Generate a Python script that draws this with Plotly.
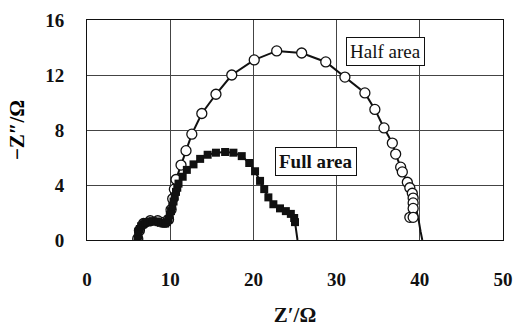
import plotly.graph_objects as go

# Half area (open circles)
half_x = [6.1, 6.3, 6.8, 7.6, 8.5, 9.3, 9.8, 10.1, 10.3, 10.5, 10.7, 11.3, 11.9, 12.6, 13.8, 15.5, 17.4, 20.1,
          22.8, 25.8, 28.7, 31.0, 33.4, 34.6, 35.7, 36.7, 37.1, 37.7, 37.9, 38.5, 38.8, 39.1, 39.2, 39.2, 39.2, 38.8, 39.2]
half_y = [0.1, 0.7, 1.2, 1.4, 1.4, 1.3, 1.5, 2.2, 3.0, 3.7, 4.4, 5.45, 6.5, 7.7, 9.2, 10.6, 12.0, 13.1,
          13.75, 13.6, 12.95, 11.85, 10.7, 9.5, 8.15, 7.05, 6.25, 5.3, 4.95, 4.2, 3.8, 3.4, 3.05, 2.7, 2.3, 1.65, 1.65]
# fitted line for half area
half_fit_x = [6.1, 6.3, 6.8, 7.6, 8.5, 9.3, 9.8, 10.1, 10.3, 10.5, 10.7, 11.3, 11.9, 12.6, 13.8, 15.5, 17.4, 20.1,
              22.8, 25.8, 28.7, 31.0, 33.4, 34.6, 35.7, 36.7, 37.1, 37.7, 37.9, 38.5, 38.8, 39.1, 39.3, 39.5, 39.7, 39.9, 40.1, 40.3]
half_fit_y = [0.1, 0.7, 1.2, 1.4, 1.4, 1.3, 1.5, 2.2, 3.0, 3.7, 4.4, 5.45, 6.5, 7.7, 9.2, 10.6, 12.0, 13.1,
              13.75, 13.6, 12.95, 11.85, 10.7, 9.5, 8.15, 7.05, 6.25, 5.3, 4.95, 4.2, 3.8, 3.4, 3.0, 2.5, 2.0, 1.3, 0.6, 0.0]

# Full area (filled squares)
full_x = [6.1, 6.15, 6.2, 6.35, 6.5, 6.75, 7.0, 7.3, 7.6, 7.9, 8.3, 8.6, 8.9, 9.2, 9.4, 9.6, 9.8, 9.95, 10.1, 10.25,
          10.4, 10.55, 10.7, 10.85, 11.0, 11.5, 12.0, 12.8, 13.6, 14.5, 15.5, 16.6, 17.6, 18.6, 19.5, 20.2, 20.8,
          21.3, 21.8, 22.4, 23.2, 23.9, 24.5, 24.9, 25.0]
full_y = [0.1, 0.35, 0.6, 0.8, 1.0, 1.15, 1.25, 1.3, 1.35, 1.37, 1.35, 1.3, 1.25, 1.2, 1.2, 1.3, 1.5, 1.8, 2.1, 2.45,
          2.8, 3.15, 3.5, 3.8, 4.1, 4.6, 5.1, 5.5, 5.9, 6.2, 6.35, 6.4, 6.35, 6.1, 5.6, 5.0, 4.3,
          3.7, 3.1, 2.6, 2.3, 2.1, 1.9, 1.6, 1.3]
full_fit_x = full_x + [25.1, 25.2, 25.3]
full_fit_y = full_y + [0.9, 0.4, 0.0]

x_ticks = [0, 10, 20, 30, 40, 50]
y_ticks = [0, 4, 8, 12, 16]

font_fam = "Liberation Serif, Times New Roman, serif"

fig = go.Figure()
fig.add_trace(go.Scatter(x=half_fit_x, y=half_fit_y, mode="lines",
                         line=dict(color="#111", width=2), showlegend=False, hoverinfo="skip"))
fig.add_trace(go.Scatter(x=half_x, y=half_y, mode="markers",
                         marker=dict(symbol="circle", size=10, color="white",
                                     line=dict(color="#111", width=1.3)), showlegend=False))
fig.add_trace(go.Scatter(x=full_fit_x, y=full_fit_y, mode="lines",
                         line=dict(color="#111", width=2), showlegend=False, hoverinfo="skip"))
fig.add_trace(go.Scatter(x=full_x, y=full_y, mode="markers",
                         marker=dict(symbol="square", size=8, color="#111",
                                     line=dict(color="#111", width=0)), showlegend=False))

fig.add_annotation(x=35.9, y=13.7, text="Half area", showarrow=False,
                   font=dict(family=font_fam, size=19, color="#111"),
                   bordercolor="#111", borderwidth=1, borderpad=3, bgcolor="white")
fig.add_annotation(x=27.5, y=5.7, text="<b>Full area</b>", showarrow=False,
                   font=dict(family=font_fam, size=19, color="#111"),
                   bordercolor="#111", borderwidth=1, borderpad=3, bgcolor="white")

fig.update_layout(
    width=515, height=327,
    margin=dict(l=87, r=12, t=20, b=87, autoexpand=False),
    paper_bgcolor="white", plot_bgcolor="white",
    font=dict(family=font_fam, color="#111"),
    xaxis=dict(range=[0, 50], tickvals=x_ticks, ticktext=["<b>%d</b>" % v for v in x_ticks],
               showgrid=True, gridcolor="#444", gridwidth=1, zeroline=False, automargin=False,
               showline=True, linecolor="#111", linewidth=1, mirror=True, ticks="",
               ticklabelstandoff=22, ticklabeloverflow="allow",
               tickfont=dict(family=font_fam, size=19, color="#111"),
               title=dict(text="<b>Z′/Ω</b>", font=dict(family=font_fam, size=21, color="#111"), standoff=18)),
    yaxis=dict(range=[0, 16], tickvals=y_ticks, ticktext=["<b>%d</b>" % v for v in y_ticks],
               showgrid=True, gridcolor="#444", gridwidth=1, zeroline=False, automargin=False,
               showline=True, linecolor="#111", linewidth=1, mirror=True, ticks="",
               ticklabelstandoff=18,
               tickfont=dict(family=font_fam, size=19, color="#111"),
               title=dict(text="<b>−Z″/Ω</b>", font=dict(family=font_fam, size=21, color="#000"), standoff=14)),
)

# remove the default page margin so the figure sits at the window's top-left corner
fig.write_html("out.html", config={"displayModeBar": False},
               post_script="document.body.style.margin='0';document.documentElement.style.overflow='hidden';")
